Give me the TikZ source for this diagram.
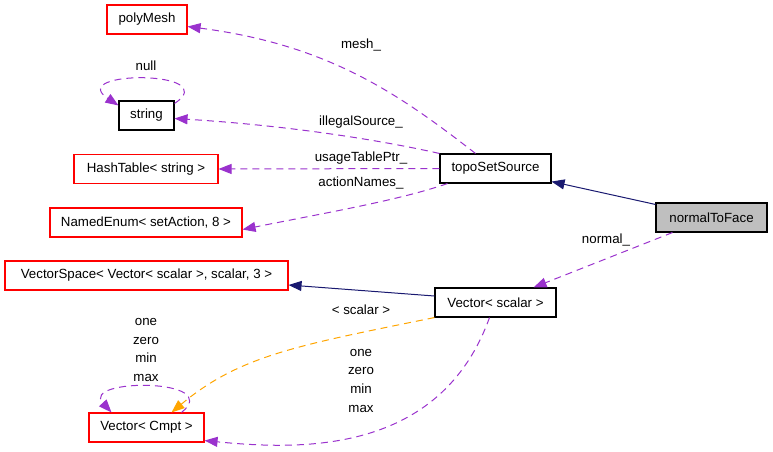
\documentclass[tikz,border=0pt]{standalone}
\usepackage{fontspec}
\setmainfont{Liberation Sans}
\usetikzlibrary{arrows.meta}
\definecolor{member}{HTML}{9A32CD}
\definecolor{inherit}{HTML}{191970}
\definecolor{tmpl}{HTML}{FFA500}
\begin{document}
\begin{tikzpicture}[x=1pt,y=-1pt,font=\fontsize{13.3}{16}\selectfont,
  cls/.style={draw=black,line width=1.1pt,minimum height=29pt,inner sep=0pt},
  ext/.style={cls,draw=red},
  lbl/.style={inner sep=0pt,text height=10pt,text depth=3pt},
  uses/.style={member,line width=1pt,dash pattern=on 7pt off 5pt,-{Triangle[length=13pt,width=10pt]}},
  isa/.style={inherit,line width=1pt,-{Triangle[length=13pt,width=10pt]}},
  tinst/.style={uses,tmpl}]
\useasboundingbox (0,0) rectangle (773,452);
% classes
\node[ext,minimum width=80pt] (mesh) at (147,19.5) {polyMesh};
\node[cls,minimum width=55pt] (str) at (146.5,115.5) {string};
\node[ext,minimum width=144pt] (hash) at (146,169) {HashTable< string >};
\node[ext,minimum width=192pt] (enum) at (146,222.5) {NamedEnum< setAction, 8 >};
\node[cls,minimum width=111pt] (topo) at (495.5,168.5) {topoSetSource};
\node[cls,fill=black!25,minimum width=111pt] (face) at (711.5,217.5) {normalToFace};
\node[ext,minimum width=283pt] (space) at (146.5,275.5) {VectorSpace< Vector< scalar >, scalar, 3 >};
\node[cls,minimum width=121pt] (vec) at (495.5,302.5) {Vector< scalar >};
\node[ext,minimum width=115pt] (cmpt) at (146.5,427.5) {Vector< Cmpt >};
% inheritance
\draw[isa] ([yshift=-2pt]face.north west) -- ([yshift=2pt]topo.south east);
\draw[isa] ([yshift=6.5pt]vec.west) -- ([yshift=-9.5pt]space.east);
% members
\draw[uses] ([xshift=-20pt]topo.north) .. controls (400,95) and (330,45) .. ([yshift=-7pt]mesh.east);
\draw[uses] (topo.north west) .. controls (370,138) and (280,125) .. ([yshift=-3pt]str.east);
\draw[uses] (topo.west) -- (hash.east);
\draw[uses] ([xshift=8pt]topo.south west) .. controls (400,200) and (330,212) .. ([yshift=-7pt]enum.east);
\draw[uses] ([xshift=17pt]face.south west) -- ([xshift=-23pt]vec.north east);
\draw[uses] ([yshift=-3pt]str.north east) .. controls (225,70) and (65,70) .. ([yshift=-5pt]str.north west);
\draw[tinst] (vec.south west) .. controls (300,345) and (240,355) .. ([xshift=25pt]cmpt.north);
\draw[uses] ([xshift=-6pt]vec.south) .. controls (440,455) and (300,450) .. ([yshift=2pt]cmpt.south east);
\draw[uses] ([xshift=35pt]cmpt.north) .. controls (225,378) and (80,378) .. ([xshift=-35pt]cmpt.north);
% labels
\node[lbl] (lmesh) at (361,45) {mesh\_};
\node[lbl] (lnull) at (146,67) {null};
\node[lbl] (lillegal) at (361,122) {illegalSource\_};
\node[lbl] (lusage) at (361,158) {usageTablePtr\_};
\node[lbl] (lactions) at (361,183) {actionNames\_};
\node[lbl] (lnormal) at (606,240) {normal\_};
\node[lbl] (lscalar) at (361,311) {< scalar >};
\foreach \w [count=\i] in {one,zero,min,max}
{
\node[lbl] (lvec\i) at (361,334+18.7*\i) {\w};
\node[lbl] (lcmpt\i) at (146,303.3+18.7*\i) {\w};
}
\end{tikzpicture}
\end{document}
